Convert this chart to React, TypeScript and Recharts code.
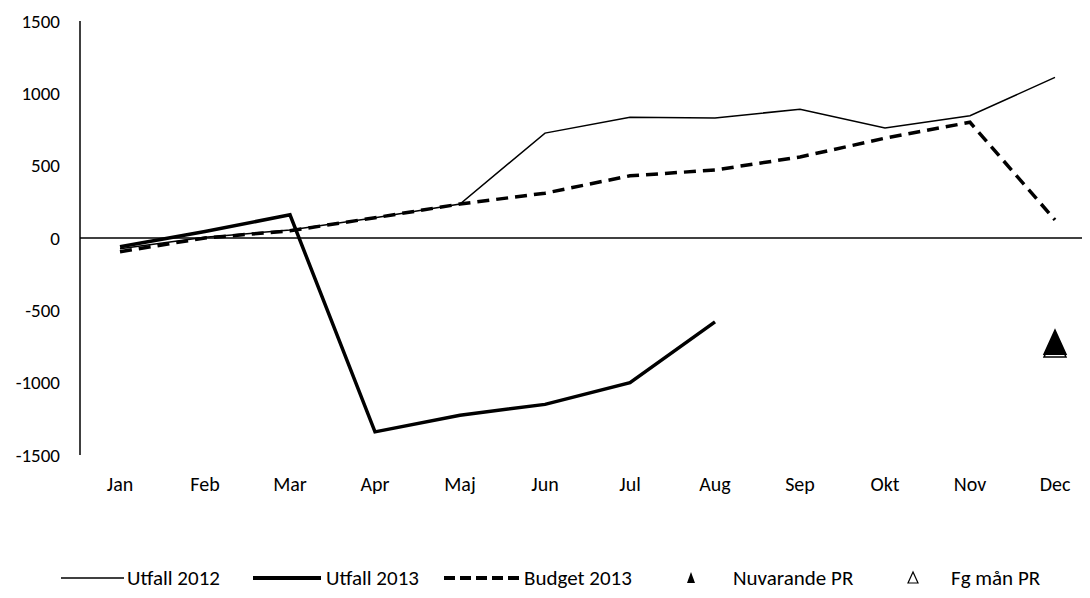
import { ComposedChart, Line, XAxis, YAxis, ReferenceLine, Legend } from "recharts";

const months = ["Jan", "Feb", "Mar", "Apr", "Maj", "Jun", "Jul", "Aug", "Sep", "Okt", "Nov", "Dec"];
const utfall2012 = [-75, 5, 55, 140, 235, 725, 835, 830, 890, 760, 845, 1110];
const utfall2013: (number | null)[] = [-60, 45, 160, -1340, -1225, -1150, -1000, -580, null, null, null, null];
const budget2013 = [-95, 0, 50, 140, 235, 310, 430, 470, 560, 690, 800, 125];
const nuvarandePR: (number | null)[] = [null, null, null, null, null, null, null, null, null, null, null, -720];
const fgManPR: (number | null)[] = [null, null, null, null, null, null, null, null, null, null, null, -740];
const yTicks = [-1500, -1000, -500, 0, 500, 1000, 1500];

const data = months.map((m, i) => ({
  month: m,
  u2012: utfall2012[i],
  u2013: utfall2013[i],
  budget: budget2013[i],
  nuv: nuvarandePR[i],
  fg: fgManPR[i],
}));

const FONT = "Carlito, Lato, 'Open Sans', sans-serif";

const Triangle = (filled: boolean) => (props: any) => {
  const { cx, cy, value } = props;
  if (value == null || cx == null || cy == null) return <g key={props.key} />;
  const w = 11;
  const h = 12;
  return (
    <polygon
      key={props.key}
      points={`${cx},${cy - h} ${cx - w},${cy + h} ${cx + w},${cy + h}`}
      fill={filled ? "#000" : "#fff"}
      stroke="#000"
      strokeWidth={1.5}
    />
  );
};

const LegendContent = () => {
  const text = { fontFamily: FONT, fontSize: 21, fill: "#000" } as const;
  return (
    <svg width={1090} height={40} style={{ display: "block" }}>
      <line x1={61} x2={124} y1={20} y2={20} stroke="#000" strokeWidth={1.5} />
      <text x={127} y={27} {...text}>Utfall 2012</text>
      <line x1={253} x2={321} y1={20} y2={20} stroke="#000" strokeWidth={4} />
      <text x={326} y={27} {...text}>Utfall 2013</text>
      <line x1={444} x2={520} y1={20} y2={20} stroke="#000" strokeWidth={4} strokeDasharray="11 5" />
      <text x={524} y={27} {...text}>Budget 2013</text>
      <polygon points="691,14 687,25 695,25" fill="#000" />
      <text x={733} y={27} {...text}>Nuvarande PR</text>
      <polygon points="913,14 908,25 918,25" fill="none" stroke="#000" strokeWidth={1.2} />
      <text x={951} y={27} {...text}>Fg mån PR</text>
    </svg>
  );
};

export default function App() {
  return (
    <div style={{ margin: "-8px 0 0 -8px", width: 1090, height: 598, background: "#fff" }}>
      <ComposedChart width={1090} height={598} data={data} margin={{ top: 21, right: 0, left: 0, bottom: 0 }}>
        <XAxis
          dataKey="month"
          axisLine={false}
          tickLine={false}
          tickSize={0}
          tickMargin={22}
          height={103}
          interval={0}
          padding={{ left: 40, right: 35 }}
          tick={{ fontFamily: FONT, fontSize: 20, fill: "#000" }}
        />
        <YAxis
          domain={[-1500, 1500]}
          ticks={yTicks}
          width={80}
          tickLine={false}
          tickSize={0}
          tickMargin={20}
          axisLine={{ stroke: "#000", strokeWidth: 1.5 }}
          tick={{ fontFamily: FONT, fontSize: 19, fill: "#000" }}
        />
        <ReferenceLine y={0} stroke="#000" strokeWidth={1.5} />
        <Line dataKey="u2012" stroke="#000" strokeWidth={1.5} dot={false} isAnimationActive={false} type="linear" />
        <Line dataKey="budget" stroke="#000" strokeWidth={3.5} strokeDasharray="12 7" dot={false} isAnimationActive={false} type="linear" />
        <Line dataKey="u2013" stroke="#000" strokeWidth={3.5} dot={false} isAnimationActive={false} type="linear" />
        <Line dataKey="fg" stroke="none" dot={Triangle(false)} activeDot={false} isAnimationActive={false} />
        <Line dataKey="nuv" stroke="none" dot={Triangle(true)} activeDot={false} isAnimationActive={false} />
        <Legend verticalAlign="bottom" content={<LegendContent />} wrapperStyle={{ height: 40 }} />
      </ComposedChart>
    </div>
  );
}
